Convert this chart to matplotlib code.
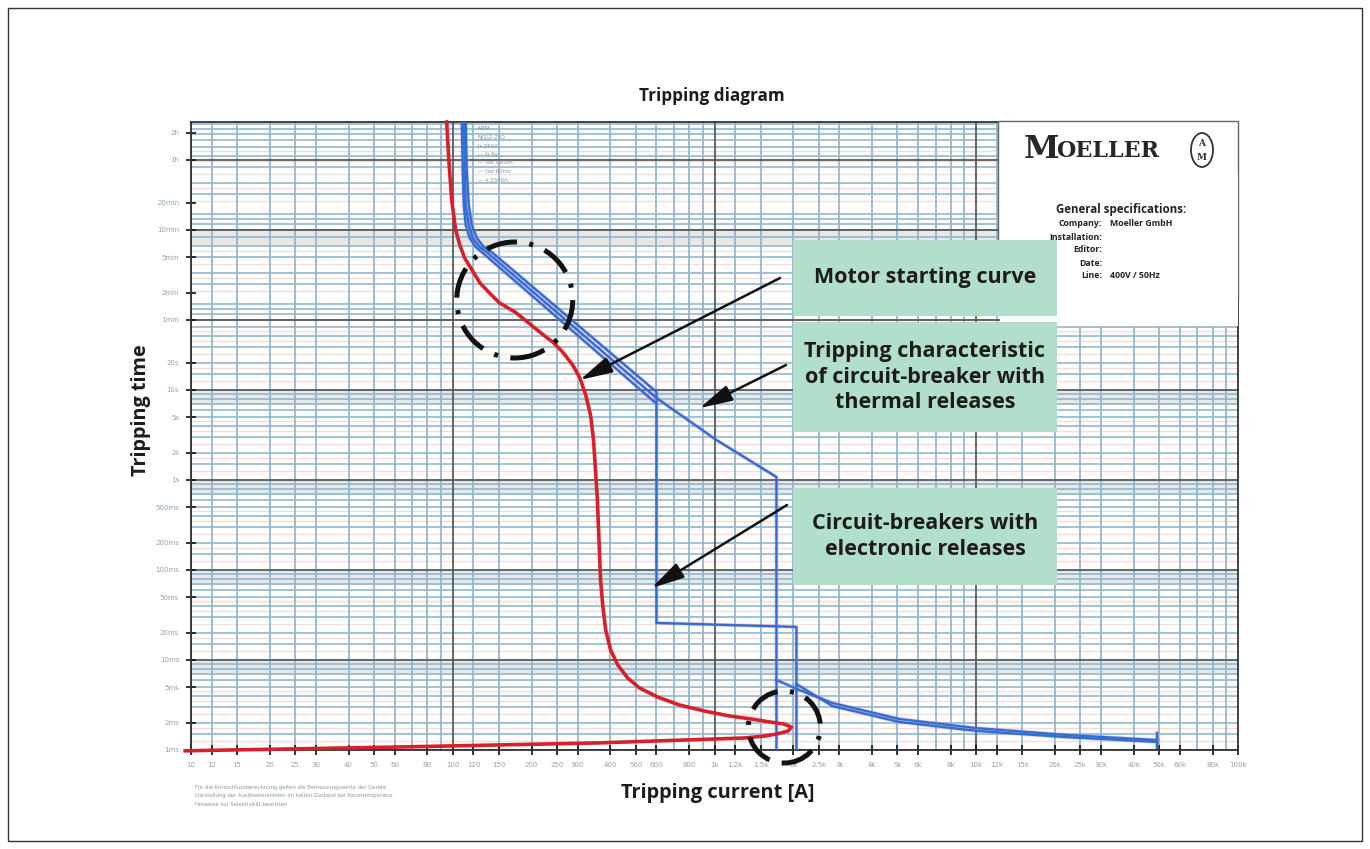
import numpy as np
import matplotlib.pyplot as plt
from matplotlib.patches import Rectangle, Ellipse

# Motor starting curve (current in A, time in s)
motor_i = [94.8, 96.6, 99.1, 102.6, 106.4, 111, 127, 138, 151, 173, 193, 215, 241,
           263, 287, 306, 322, 336, 345, 357, 367, 374, 384, 401, 427, 466, 517, 606,
           735, 916, 1140, 1383, 1622, 1832, 1968, 1914, 1738, 1552, 1303, 364, 62.8, 9.5]
motor_t = [9500, 3594, 1291, 600, 408, 293, 155, 120, 92.6, 73.6, 57, 44, 34.1,
           26.4, 19, 13.6, 8.8, 5.27, 2.78, 0.6, 0.0774, 0.0408, 0.0215, 0.0129, 0.0088,
           0.0063, 0.00489, 0.00388, 0.00316, 0.00271, 0.00239, 0.00221, 0.00205,
           0.00195, 0.0018, 0.00163, 0.00151, 0.00143, 0.00136, 0.0012, 0.00108, 0.00098]

# Circuit-breaker with electronic releases
elec_i = [112.1, 113.1, 115.1, 118.2, 123.5, 131.3, 142.1, 600.5, 600.5, 2056, 2056]
elec_t = [9506, 2783, 1136, 681, 489, 388, 333, 9.5, 0.0258, 0.0233, 0.001]
elec_tail_i = [2056, 2821, 5082, 10000, 22050, 49080]
elec_tail_t = [0.0054, 0.00308, 0.00205, 0.00163, 0.00139, 0.00123]

# Circuit-breaker with thermal releases
therm_i = [110.2, 111.1, 112.1, 115.1, 119.2, 126.8, 136.0, 600.5, 1017.6, 1724.5, 1724.5]
therm_t = [9506, 2783, 1136, 681, 489, 388, 333, 8.15, 2.78, 1.08, 0.001]
therm_tail_i = [1724.5, 2110, 2821, 5082, 10000, 22050, 49080]
therm_tail_t = [0.006, 0.00464, 0.00333, 0.00221, 0.00175, 0.00147, 0.00129]
therm2_i = [108.3, 109.2, 110.2, 112.1, 116.1, 122.4, 130.2, 590]
therm2_t = [9506, 2783, 1136, 681, 489, 388, 333, 7.36]
end_i = [49080, 49080]
end_t = [0.00155, 0.00105]

# Axis ticks
x_ticks = [10, 12, 15, 20, 25, 30, 40, 50, 60, 80,
           100, 120, 150, 200, 250, 300, 400, 500, 600, 800,
           1000, 1200, 1500, 2000, 2500, 3000, 4000, 5000, 6000, 8000,
           10000, 12000, 15000, 20000, 25000, 30000, 40000, 50000, 60000, 80000, 100000]
y_ticks = [0.001, 0.002, 0.005, 0.01, 0.02, 0.05, 0.1, 0.2, 0.5, 1, 2, 5, 10, 20,
           60, 120, 300, 600, 1200, 3600, 7200]
y_labels = ['1ms', '2ms', '5ms', '10ms', '20ms', '50ms', '100ms', '200ms', '500ms',
            '1s', '2s', '5s', '10s', '20s', '1min', '2min', '5min', '10min', '20min',
            '1h', '2h']

# Highlight circles and arrow heads (data coordinates)
circ_i = [172.5, 1849]
circ_t = [100, 0.0018]
arrow_i = [305.6, 877, 575]
arrow_t = [12.9, 6.3, 0.063]

W, H = 1370, 849


def fx(px):
    return px / W


def fy(py):
    return 1 - py / H


def label_amp(v):
    if v >= 1000:
        return '%gk' % (v / 1000)
    return '%g' % v


fig = plt.figure(figsize=(W / 100, H / 100), dpi=100)
fig.patch.set_facecolor('white')

# outer frame
fig.add_artist(Rectangle((fx(8), fy(841)), fx(1354), 833 / H, transform=fig.transFigure,
                         fill=False, edgecolor='#333333', lw=1.0))

ax = fig.add_axes([fx(191), fy(750), 1047 / W, 628 / H])
ax.set_xscale('log')
ax.set_yscale('log')
ax.set_xlim(10, 100000)
ax.set_ylim(0.001, 9500)

# grid: blue, light pink and dark decade lines
blue = '#94b6cb'
pink = '#f6dcd8'
for dec in [10, 100, 1000, 10000]:
    for m in [1.2, 1.5, 2, 2.5, 3, 4, 5, 6, 7, 8, 9]:
        ax.axvline(dec * m, color=blue, lw=1.3, zorder=0.5)
    ax.axvline(dec, color='#5a5a5a', lw=1.3, zorder=0.6)

for dec in [0.001, 0.01, 0.1, 1, 10, 100, 1000]:
    for m in [1.5, 2, 3, 4, 5, 6, 7, 8, 9]:
        ax.axhline(dec * m, color=blue, lw=1.2, zorder=0.5)
    for m in [1.25, 1.75, 2.5, 3.5, 4.5]:
        ax.axhline(dec * m, color=pink, lw=1.0, zorder=0.4)
for t in [0.001, 0.01, 0.1, 1, 10, 60, 600, 3600]:
    ax.axhline(t, color='#5a5a5a', lw=1.3, zorder=0.6)
for t in [0.01, 0.1, 1, 10, 600]:
    ax.axhspan(t * 0.68, t, color='#cfd4d7', alpha=0.5, lw=0, zorder=0.3)

# curves
for xs, ys in [(therm2_i, therm2_t), (therm_i, therm_t), (therm_tail_i, therm_tail_t),
               (elec_i, elec_t), (elec_tail_i, elec_tail_t), (end_i, end_t)]:
    ax.plot(xs, ys, color='#c27ad0', lw=2.8, alpha=0.35, zorder=2)
    ax.plot(xs, ys, color='#2f6fd2', lw=1.7, zorder=3)
ax.plot(motor_i, motor_t, color='#d8202a', lw=2.6, zorder=4, clip_on=False)

# ticks
ax.xaxis.set_minor_locator(plt.NullLocator())
ax.yaxis.set_minor_locator(plt.NullLocator())
ax.set_xticks(x_ticks)
ax.set_xticklabels([label_amp(v) for v in x_ticks])
ax.set_yticks(y_ticks)
ax.set_yticklabels(y_labels)
ax.tick_params(direction='inout', length=7, width=1.2, color='#111111',
               labelsize=5, labelcolor='#8ea3b2', pad=5)
for s in ax.spines.values():
    s.set_color('#333333')
    s.set_linewidth(1.3)

# highlight circles
for ci, ct, r in zip(circ_i, circ_t, [58, 36]):
    c = fig.transFigure.inverted().transform(ax.transData.transform((ci, ct)))
    fig.add_artist(Ellipse(c, 2 * r / W, 2 * r / H, transform=fig.transFigure, fill=False,
                           edgecolor='#111111', lw=3.6, linestyle=(0, (6.2, 2.5, 0.8, 2.5)),
                           zorder=5))

# small legend next to the curves
leg_lines = ['NZM', 'N(S)2-250', 'Ir 250A', '— tr 6s', '— Isd 1500A', '— tsd 60ms', '— Ii 2500A']
for k, s in enumerate(leg_lines):
    fig.text(fx(478), fy(129 + k * 8.5), s, fontsize=4, color='#7f93a3', va='center')

# info box (top right)
fig.add_artist(Rectangle((fx(998), fy(300)), 240 / W, 179 / H, transform=fig.transFigure,
                         facecolor='white', edgecolor='#666666', lw=1.0, zorder=2))
fig.add_artist(Rectangle((fx(1000), fy(326)), 238 / W, 152 / H, transform=fig.transFigure,
                         facecolor='white', edgecolor='none', zorder=2.1))
fig.text(fx(1024), fy(149), 'M', fontsize=23, family='DejaVu Serif', fontweight='bold',
         color='#262626', va='center', ha='left', zorder=3)
fig.text(fx(1056), fy(151), 'OELLER', fontsize=16, family='DejaVu Serif', fontweight='bold',
         color='#262626', va='center', ha='left', zorder=3)
fig.add_artist(Ellipse((fx(1202), fy(150)), 22 / W, 34 / H, transform=fig.transFigure,
                       fill=False, edgecolor='#333333', lw=1.3, zorder=3))
fig.text(fx(1202), fy(143), 'A', fontsize=6.5, family='DejaVu Serif', fontweight='bold',
         color='#333333', ha='center', va='center', zorder=3)
fig.text(fx(1202), fy(157), 'M', fontsize=6.5, family='DejaVu Serif', fontweight='bold',
         color='#333333', ha='center', va='center', zorder=3)

fig.text(fx(1121), fy(210), 'General specifications:', fontsize=8.3, family='Open Sans',
         fontweight='bold', color='#222222', ha='center', va='center', zorder=3)
spec_keys = ['Company:', 'Installation:', 'Editor:', 'Date:', 'Line:']
spec_vals = ['Moeller GmbH', '', '', '', '400V / 50Hz']
for k, (a, b) in enumerate(zip(spec_keys, spec_vals)):
    yy = fy(224 + k * 13)
    fig.text(fx(1102), yy, a, fontsize=6.3, family='Open Sans', fontweight='bold',
             color='#222222', ha='right', va='center', zorder=3)
    fig.text(fx(1110), yy, b, fontsize=6.3, family='Open Sans', fontweight='bold',
             color='#222222', ha='left', va='center', zorder=3)

# annotation boxes
mint = '#b2dfcb'
boxes = [(793, 240, 264, 76, 'Motor starting curve'),
         (793, 322, 264, 110, 'Tripping characteristic\nof circuit-breaker with\nthermal releases'),
         (793, 488, 264, 97, 'Circuit-breakers with\nelectronic releases')]
for x0, y0, w, h, txt in boxes:
    fig.add_artist(Rectangle((fx(x0), fy(y0 + h)), w / W, h / H, transform=fig.transFigure,
                             facecolor=mint, edgecolor='none', zorder=3))
    fig.text(fx(x0 + w / 2), fy(y0 + h / 2), txt, fontsize=15.5, family='Open Sans',
             fontweight='bold', color='#1c1c1c', ha='center', va='center',
             linespacing=1.3, zorder=4)

# arrows
tails = [(780, 278), (786, 365), (787, 505)]
for ai, at, (tx, ty) in zip(arrow_i, arrow_t, tails):
    ax.annotate('', xy=(ai, at), xycoords='data', xytext=(tx, H - ty),
                textcoords='figure pixels', annotation_clip=False,
                arrowprops=dict(arrowstyle='-|>,head_length=1.0,head_width=0.25',
                                color='#111111', lw=1.8, mutation_scale=20,
                                shrinkA=0, shrinkB=0), zorder=6)

# titles
fig.text(fx(712), fy(96), 'Tripping diagram', fontsize=12.3, family='Open Sans',
         fontweight='bold', color='#1c1c1c', ha='center', va='center')
fig.text(fx(718), fy(793), 'Tripping current [A]', fontsize=14.4, family='Open Sans',
         fontweight='bold', color='#1c1c1c', ha='center', va='center')
fig.text(fx(141), fy(410), 'Tripping time', fontsize=14.3, family='Open Sans',
         fontweight='bold', color='#1c1c1c', ha='center', va='center', rotation=90)

# small footnote (bottom left)
notes = ['Für die Kurzschlussberechnung gelten die Bemessungswerte der Geräte',
         'Darstellung der Auslösekennlinien im kalten Zustand bei Raumtemperatur',
         'Hinweise zur Selektivität beachten']
for k, s in enumerate(notes):
    fig.text(fx(195), fy(787 + k * 9), s, fontsize=3.8, color='#8797a3', va='center')

fig.savefig('out.png', dpi=100)
